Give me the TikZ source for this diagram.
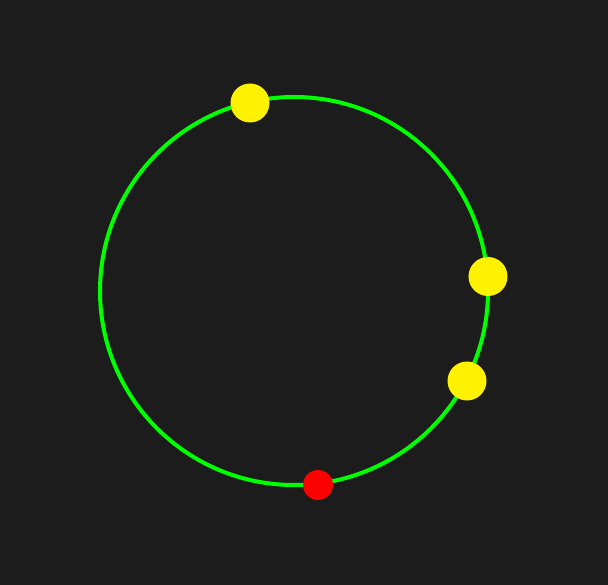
\documentclass[tikz,border=0pt]{standalone}
\begin{document}
\begin{tikzpicture}[x=1pt,y=-1pt,
  ring/.style={line width=4pt},
  bigdot/.style={circle, fill=yellow, inner sep=0pt, minimum size=39pt},
  smalldot/.style={circle, fill=red, inner sep=0pt, minimum size=30pt}]
\definecolor{bg}{HTML}{1C1C1C}
\definecolor{ringgreen}{HTML}{00FF00}
\fill[bg] (0,0) rectangle (608,585);
\useasboundingbox (0,0) rectangle (608,585);
\coordinate (c) at (294,291);
\draw[ring, draw=ringgreen] (c) circle[radius=194];
\node[bigdot] (y1) at (250,103) {};
\node[bigdot] (y2) at (488,276.5) {};
\node[bigdot] (y3) at (467,381) {};
\node[smalldot] (r1) at (318,485) {};
\end{tikzpicture}
\end{document}
